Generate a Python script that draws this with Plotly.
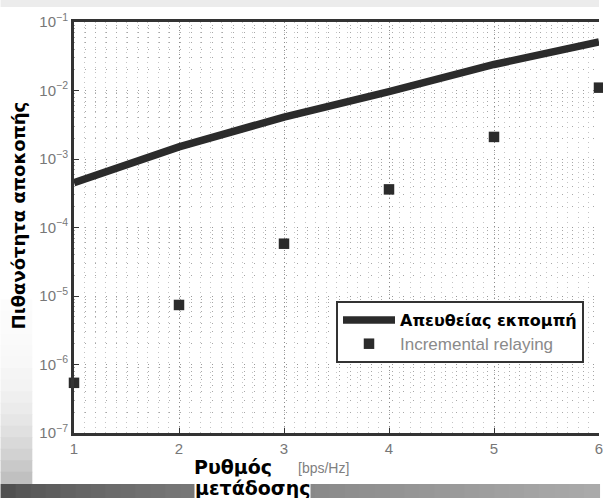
import plotly.graph_objects as go

# Rate in bps/Hz
rates = [1, 2, 3, 4, 5, 6]
# Outage probability, direct transmission
direct_outage = [4.5e-4, 1.5e-3, 4.1e-3, 9.6e-3, 2.4e-2, 5.1e-2]
# Outage probability, incremental relaying
relay_outage = [5.4e-7, 7.4e-6, 5.8e-5, 3.6e-4, 2.1e-3, 1.1e-2]

y_tick_vals = [1e-7, 1e-6, 1e-5, 1e-4, 1e-3, 1e-2, 1e-1]
y_tick_text = ["10<sup>−7</sup>", "10<sup>−6</sup>", "10<sup>−5</sup>", "10<sup>−4</sup>",
               "10<sup>−3</sup>", "10<sup>−2</sup>", "10<sup>−1</sup>"]
x_tick_vals = [1, 2, 3, 4, 5, 6]

W, H = 603, 498
ML, MR, MT, MB = 74, 0, 22, 65
PW, PH = W - ML - MR, H - MT - MB


def px(x):
    return (x - ML) / PW


def py(y):
    return (H - MB - y) / PH


fig = go.Figure()
fig.add_trace(go.Scatter(
    x=rates, y=direct_outage, mode="lines",
    name="<b>Απευθείας εκπομπή</b>",
    line=dict(color="#2b2b2b", width=7.5),
))
fig.add_trace(go.Scatter(
    x=rates, y=relay_outage, mode="markers",
    name="<span style='color:#8a8a8a;font-family:Liberation Sans;font-size:17px'>Incremental relaying</span>",
    marker=dict(color="#2b2b2b", size=10.5, symbol="square"),
    cliponaxis=False,
))

minor_y = [m * 10 ** e for e in range(-7, -1) for m in range(2, 10)]

fig.update_xaxes(
    range=[1, 6], tickvals=x_tick_vals, ticks="inside", ticklen=5,
    tickcolor="#333", tickfont=dict(family="Liberation Sans", size=15, color="#777"),
    ticklabeloverflow="allow",
    showline=True, linecolor="#333", linewidth=3, mirror=True,
    showgrid=True, gridcolor="#8c8c8c", griddash="1px,3px", gridwidth=1,
    minor=dict(dtick=0.1, showgrid=True, gridcolor="#c4c4c4", griddash="1px,4px", gridwidth=1),
    zeroline=False,
)
fig.update_yaxes(
    type="log", range=[-7, -1], tickvals=y_tick_vals, ticktext=y_tick_text,
    ticks="inside", ticklen=5, tickcolor="#333",
    tickfont=dict(family="Liberation Sans", size=15, color="#777"),
    showline=True, linecolor="#333", linewidth=3,
    showgrid=True, gridcolor="#9a9a9a", griddash="1px,9.6px", gridwidth=1,
    minor=dict(tickvals=minor_y, showgrid=True, gridcolor="#a8a8a8", griddash="1px,9.6px", gridwidth=1),
    zeroline=False,
)

shapes = []
# light strip along the top edge
shapes.append(dict(type="rect", xref="paper", yref="paper", layer="below",
                   x0=px(0), x1=px(W), y0=py(7), y1=py(0),
                   fillcolor="#ececec", line=dict(width=0)))
# soft shadow along the left edge, deepening toward the bottom
m = 16
for j in range(m):
    t = j / (m - 1)
    g = int(252 - 60 * t ** 2.5)
    shapes.append(dict(type="rect", xref="paper", yref="paper", layer="below",
                       x0=px(0), x1=px(32),
                       y0=py(300 + 184 * (j + 1) / m), y1=py(300 + 184 * j / m) + 0.002,
                       fillcolor=f"rgb({g},{g},{g})", line=dict(width=0)))
# drop shadow along the bottom edge
n = 40
for i in range(n):
    t = i / (n - 1)
    g = int(80 + 90 * t ** 0.7)
    shapes.append(dict(type="rect", xref="paper", yref="paper", layer="below",
                       x0=px(W * i / n), x1=px(W * (i + 1) / n) + 0.002,
                       y0=py(H), y1=py(484),
                       fillcolor=f"rgb({g},{g},{g})", line=dict(width=0)))

annotations = [
    dict(text="<b>Πιθανότητα αποκοπής</b>", xref="paper", yref="paper",
         x=px(18), y=py(215), xanchor="center", yanchor="middle",
         textangle=-90, showarrow=False,
         font=dict(family="DejaVu Sans", size=18, color="#000")),
    dict(text="<b>Ρυθμός</b>", xref="paper", yref="paper",
         x=px(234), y=py(467), xanchor="center", yanchor="middle", showarrow=False,
         font=dict(family="DejaVu Sans", size=19, color="#000")),
    dict(text="<b>μετάδοσης</b>", xref="paper", yref="paper",
         x=px(254), y=py(488), xanchor="center", yanchor="middle", showarrow=False,
         bgcolor="#ffffff", borderpad=0,
         font=dict(family="DejaVu Sans", size=19, color="#000")),
    dict(text="[bps/Hz]", xref="paper", yref="paper",
         x=px(325), y=py(468), xanchor="center", yanchor="middle", showarrow=False,
         font=dict(family="Liberation Sans", size=14, color="#808080")),
]

fig.update_layout(
    width=W, height=H,
    margin=dict(l=ML, r=MR, t=MT, b=MB),
    paper_bgcolor="#ffffff", plot_bgcolor="#ffffff",
    showlegend=True,
    legend=dict(
        x=px(338), y=py(301), xanchor="left", yanchor="top",
        bgcolor="#ffffff", bordercolor="#333", borderwidth=2,
        font=dict(family="DejaVu Sans", size=16, color="#000"),
        tracegroupgap=0, itemwidth=52,
    ),
    shapes=shapes,
    annotations=annotations,
)

fig.write_html("out.html")
